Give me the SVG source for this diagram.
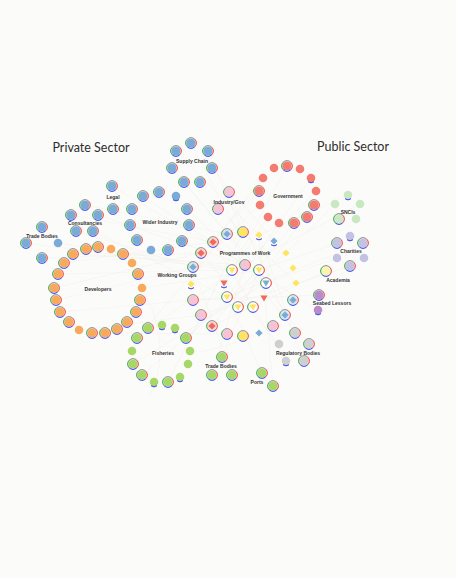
<svg xmlns="http://www.w3.org/2000/svg" xmlns:xlink="http://www.w3.org/1999/xlink" width="456" height="578" viewBox="0 0 456 578">
<style>
.b{fill:#7aabd6}.o{fill:#f8a95c}.r{fill:#f47b6f}.g{fill:#a7d867}.p{fill:#f7c2d6}.y{fill:#ffe462}.sn{fill:#c8e8c2}.ch{fill:#c4c2e2}.ac{fill:#f8f6ae}.sb{fill:#b98bca}.gr{fill:#cfcfcf}.lb{fill:#d6e5f1}.lr{fill:#fbd3ce}.wt{fill:#fdfdfb}.dr{fill:#ef6a5d}
.l{font-family:"Liberation Sans",Arial,sans-serif;font-size:5px;font-weight:bold;fill:#333;text-anchor:middle}
.t{font-family:Lato,"Liberation Sans",sans-serif;font-size:12.5px;fill:#2d2d2d;text-anchor:middle}
.e{stroke:#ebe6dc;stroke-width:.4;fill:none;opacity:.6}
</style>
<defs>
<g id="R" fill="none" stroke-width="1">
<path d="M-3.8,-3.8A5.4,5.4 0 0 1 3.8,-3.8" stroke="#8a8a8a"/>
<path d="M3.8,-3.8A5.4,5.4 0 0 1 3.8,3.8" stroke="#e8433a"/>
<path d="M3.8,3.8A5.4,5.4 0 0 1 -3.8,3.8" stroke="#2b3cf0"/>
<path d="M-3.8,3.8A5.4,5.4 0 0 1 -3.8,-3.8" stroke="#3aa04a"/>
</g>
<path id="U" d="M3,3.7A4.8,4.8 0 0 1 -3,3.7" fill="none" stroke="#2b3cf0" stroke-width="1"/>
<path id="D" d="M0,-3.6L3.6,0L0,3.6L-3.6,0Z"/>
<path id="T" d="M-3.6,-2.4H3.6L0,3.4Z"/>
</defs>
<rect width="456" height="578" fill="#fbfbf9"/>
<g id="connectors">
<path class="e" d="M120,255C160,300 170,360 150,395" stroke="#f6dcbc"/>
<path class="e" d="M191,143L240,237"/>
<path class="e" d="M200,352Q235,345 257,333" stroke="#cfdced"/>
<path class="e" d="M58,243L245,270M26,243L230,270M42,258L200,253M112,186L245,265M85,205L227,234M71,215L213,242M98,215L245,265M76,231L193,267M93,231L227,297"/>
<path class="e" d="M54,288L200,253M58,274L232,270M56,300L193,267M60,312L227,297M79,330L201,315M92,333L227,334M64,263L212,242M73,254L245,265M142,288L259,270"/>
<path class="e" d="M176,151L259,235M208,151L243,232M172,168L227,234M212,168L274,241M184,182L259,270M143,196L245,265M187,209L266,283"/>
<path class="e" d="M287,166L232,270M263,178L213,242M311,178L227,297M259,191L201,253M316,191L245,265M260,205L193,267M314,205L238,307M268,217L224,283M294,223L212,326"/>
<path class="e" d="M348,195L259,235M335,204L286,253M360,204L245,265M337,243L259,270M363,243L227,297M337,258L266,283M350,266L201,315M326,271L212,326M319,295L193,300M318,310L245,265"/>
<path class="e" d="M295,333L245,265M279,344L201,253M309,344L227,234M286,361L213,242M304,361L259,235M222,357L259,270M212,375L245,265M232,375L193,267M262,373L227,297M273,386L259,235"/>
<path class="e" d="M148,328L245,265M186,338L259,270M137,338L227,234M133,364L266,283M168,382L243,232M142,375L286,253M229,192L285,315M218,209L296,283"/>
</g>
<text class="t" x="91" y="152">Private Sector</text>
<text class="t" x="353" y="151">Public Sector</text>
<g id="supply-chain">
<g id="sc1" transform="translate(191 143)"><circle class="b" r="4.6"/><use href="#R"/></g>
<g id="sc2" transform="translate(176 151)"><circle class="b" r="4.6"/><use href="#R"/></g>
<g id="sc3" transform="translate(208 151)"><circle class="b" r="4.6"/><use href="#R"/></g>
<g id="sc4" transform="translate(172 168)"><circle class="b" r="4.6"/><use href="#R"/></g>
<g id="sc5" transform="translate(212 168)"><circle class="b" r="4.6"/><use href="#R"/></g>
<g id="sc6" transform="translate(184 182)"><circle class="b" r="4.6"/><use href="#R"/></g>
<g id="sc7" transform="translate(200 182)"><circle class="b" r="4.6"/><use href="#R"/></g>
<text class="l" x="192" y="163">Supply Chain</text>
</g>
<g id="legal">
<g id="lg1" transform="translate(112 186)"><circle class="b" r="4.6"/><use href="#R"/></g>
<g id="lg2" transform="translate(85 205)"><circle class="b" r="4.6"/><use href="#R"/></g>
<g id="lg3" transform="translate(113 209)"><circle class="b" r="4.6"/><use href="#R"/></g>
<g id="lg4" transform="translate(71 215)"><circle class="b" r="4.6"/><use href="#R"/></g>
<g id="lg5" transform="translate(98 215)"><circle class="b" r="4.6"/><use href="#R"/></g>
<text class="l" x="113" y="199">Legal</text>
</g>
<g id="consultancies">
<g id="co1" transform="translate(76 231)"><circle class="b" r="4.6"/><use href="#R"/></g>
<g id="co2" transform="translate(93 231)"><circle class="b" r="4.6"/><use href="#R"/></g>
<text class="l" x="85" y="225">Consultancies</text>
</g>
<g id="wider-industry">
<g id="wi1" transform="translate(143 196)"><circle class="b" r="4.6"/><use href="#R"/></g>
<g id="wi2" transform="translate(159 192)"><circle class="b" r="4.6"/><use href="#R"/></g>
<g id="wi3" transform="translate(176 196)"><circle class="b" r="4.3"/><use href="#U"/></g>
<g id="wi4" transform="translate(187 209)"><circle class="b" r="4.6"/><use href="#R"/></g>
<g id="wi5" transform="translate(189 225)"><circle class="b" r="4.6"/><use href="#R"/></g>
<g id="wi6" transform="translate(182 241)"><circle class="b" r="4.6"/><use href="#R"/></g>
<g id="wi7" transform="translate(168 250)"><circle class="b" r="4.6"/><use href="#R"/></g>
<g id="wi8" transform="translate(151 250)"><circle class="b" r="4.3"/></g>
<g id="wi9" transform="translate(137 240)"><circle class="b" r="4.6"/><use href="#R"/></g>
<g id="wi10" transform="translate(130 225)"><circle class="b" r="4.6"/><use href="#R"/></g>
<g id="wi11" transform="translate(132 209)"><circle class="b" r="4.6"/><use href="#R"/></g>
<text class="l" x="160" y="224">Wider Industry</text>
</g>
<g id="trade-bodies-private">
<g id="tb1" transform="translate(42 227)"><circle class="b" r="4.6"/><use href="#R"/></g>
<g id="tb2" transform="translate(26 243)"><circle class="b" r="4.6"/><use href="#R"/></g>
<g id="tb3" transform="translate(58 243)"><circle class="b" r="4.3"/></g>
<g id="tb4" transform="translate(42 258)"><circle class="b" r="4.6"/><use href="#R"/></g>
<text class="l" x="42" y="238">Trade Bodies</text>
</g>
<g id="developers">
<g id="dv1" transform="translate(86 249)"><circle class="o" r="4.6"/><use href="#R"/></g>
<g id="dv2" transform="translate(98 247)"><circle class="o" r="4.6"/><use href="#R"/></g>
<g id="dv3" transform="translate(111 249)"><circle class="o" r="4.3"/></g>
<g id="dv4" transform="translate(73 254)"><circle class="o" r="4.6"/><use href="#R"/></g>
<g id="dv5" transform="translate(123 254)"><circle class="o" r="4.6"/><use href="#R"/></g>
<g id="dv6" transform="translate(64 263)"><circle class="o" r="4.6"/><use href="#R"/></g>
<g id="dv7" transform="translate(132 263)"><circle class="o" r="4.3"/></g>
<g id="dv8" transform="translate(58 274)"><circle class="o" r="4.6"/><use href="#R"/></g>
<g id="dv9" transform="translate(138 274)"><circle class="o" r="4.6"/><use href="#R"/></g>
<g id="dv10" transform="translate(54 288)"><circle class="o" r="4.6"/><use href="#R"/></g>
<g id="dv11" transform="translate(142 288)"><circle class="o" r="4.3"/></g>
<g id="dv12" transform="translate(56 300)"><circle class="o" r="4.6"/><use href="#R"/></g>
<g id="dv13" transform="translate(140 300)"><circle class="o" r="4.6"/><use href="#R"/></g>
<g id="dv14" transform="translate(60 312)"><circle class="o" r="4.6"/><use href="#R"/></g>
<g id="dv15" transform="translate(136 312)"><circle class="o" r="4.6"/><use href="#R"/></g>
<g id="dv16" transform="translate(69 322)"><circle class="o" r="4.6"/><use href="#R"/></g>
<g id="dv17" transform="translate(127 322)"><circle class="o" r="4.6"/><use href="#R"/></g>
<g id="dv18" transform="translate(79 330)"><circle class="o" r="4.3"/></g>
<g id="dv19" transform="translate(92 333)"><circle class="o" r="4.6"/><use href="#R"/></g>
<g id="dv20" transform="translate(105 333)"><circle class="o" r="4.6"/><use href="#R"/></g>
<g id="dv21" transform="translate(117 329)"><circle class="o" r="4.6"/><use href="#R"/></g>
<text class="l" x="98" y="291">Developers</text>
</g>
<g id="fisheries">
<g id="fi1" transform="translate(148 328)"><circle class="g" r="4.6"/><use href="#R"/></g>
<g id="fi2" transform="translate(162 325)"><circle class="g" r="4.3"/><use href="#U"/></g>
<g id="fi3" transform="translate(175 328)"><circle class="g" r="4.3"/><use href="#U"/></g>
<g id="fi4" transform="translate(186 338)"><circle class="g" r="4.6"/><use href="#R"/></g>
<g id="fi5" transform="translate(137 338)"><circle class="g" r="4.6"/><use href="#R"/></g>
<g id="fi6" transform="translate(132 351)"><circle class="g" r="4.3"/></g>
<g id="fi7" transform="translate(190 351)"><circle class="g" r="4.3"/></g>
<g id="fi8" transform="translate(133 364)"><circle class="g" r="4.6"/><use href="#R"/></g>
<g id="fi9" transform="translate(188 364)"><circle class="g" r="4.3"/></g>
<g id="fi10" transform="translate(142 375)"><circle class="g" r="4.6"/><use href="#R"/></g>
<g id="fi11" transform="translate(154 382)"><circle class="g" r="4.3"/><use href="#U"/></g>
<g id="fi12" transform="translate(168 382)"><circle class="g" r="4.6"/><use href="#R"/></g>
<g id="fi13" transform="translate(180 377)"><circle class="g" r="4.3"/><use href="#U"/></g>
<text class="l" x="163" y="355">Fisheries</text>
</g>
<g id="trade-bodies-public">
<g id="tp1" transform="translate(222 357)"><circle class="g" r="4.6"/><use href="#R"/></g>
<g id="tp2" transform="translate(212 375)"><circle class="g" r="4.6"/><use href="#R"/></g>
<g id="tp3" transform="translate(232 375)"><circle class="g" r="4.6"/><use href="#R"/></g>
<text class="l" x="221" y="368">Trade Bodies</text>
</g>
<g id="ports">
<g id="po1" transform="translate(262 373)"><circle class="g" r="4.6"/><use href="#R"/></g>
<g id="po2" transform="translate(273 386)"><circle class="g" r="4.6"/><use href="#R"/></g>
<text class="l" x="257" y="384">Ports</text>
</g>
<g id="regulatory-bodies">
<g id="rb1" transform="translate(295 333)"><circle class="gr" r="4.6"/><use href="#R"/></g>
<g id="rb2" transform="translate(279 344)"><circle class="gr" r="4.3"/></g>
<g id="rb3" transform="translate(309 344)"><circle class="gr" r="4.6"/><use href="#R"/></g>
<g id="rb4" transform="translate(286 361)"><circle class="gr" r="4.3"/><use href="#U"/></g>
<g id="rb5" transform="translate(304 361)"><circle class="gr" r="4.6"/><use href="#R"/></g>
<text class="l" x="298" y="355">Regulatory Bodies</text>
</g>
<g id="government">
<g id="gv1" transform="translate(287 166)"><circle class="r" r="4.6"/><use href="#R"/></g>
<g id="gv2" transform="translate(274 168)"><circle class="r" r="4.3"/></g>
<g id="gv3" transform="translate(300 169)"><circle class="r" r="4.3"/></g>
<g id="gv4" transform="translate(263 178)"><circle class="r" r="4.3"/></g>
<g id="gv5" transform="translate(311 178)"><circle class="r" r="4.3"/><use href="#U"/></g>
<g id="gv6" transform="translate(259 191)"><circle class="r" r="4.6"/><use href="#R"/></g>
<g id="gv7" transform="translate(316 191)"><circle class="r" r="4.3"/></g>
<g id="gv8" transform="translate(260 205)"><circle class="r" r="4.3"/></g>
<g id="gv9" transform="translate(314 205)"><circle class="r" r="4.6"/><use href="#R"/></g>
<g id="gv10" transform="translate(268 217)"><circle class="r" r="4.3"/></g>
<g id="gv11" transform="translate(307 217)"><circle class="r" r="4.6"/><use href="#R"/></g>
<g id="gv12" transform="translate(279 223)"><circle class="r" r="4.3"/></g>
<g id="gv13" transform="translate(294 223)"><circle class="r" r="4.6"/><use href="#R"/></g>
<text class="l" x="288" y="198">Government</text>
</g>
<g id="sncis">
<g id="sn1" transform="translate(348 195)"><circle class="sn" r="4.3"/><use href="#U"/></g>
<g id="sn2" transform="translate(335 204)"><circle class="sn" r="4.3"/></g>
<g id="sn3" transform="translate(360 204)"><circle class="sn" r="4.3"/></g>
<g id="sn4" transform="translate(339 219)"><circle class="sn" r="4.6"/><use href="#R"/></g>
<g id="sn5" transform="translate(356 219)"><circle class="sn" r="4.3"/></g>
<text class="l" x="348" y="214">SNCIs</text>
</g>
<g id="charities">
<g id="ch1" transform="translate(350 236)"><circle class="ch" r="4.3"/><use href="#U"/></g>
<g id="ch2" transform="translate(337 243)"><circle class="ch" r="4.6"/><use href="#R"/></g>
<g id="ch3" transform="translate(363 243)"><circle class="ch" r="4.6"/><use href="#R"/></g>
<g id="ch4" transform="translate(337 258)"><circle class="ch" r="4.3"/></g>
<g id="ch5" transform="translate(364 258)"><circle class="ch" r="4.3"/></g>
<g id="ch6" transform="translate(350 266)"><circle class="ch" r="4.6"/><use href="#R"/></g>
<text class="l" x="351" y="253">Charities</text>
</g>
<g id="academia">
<g id="ac1" transform="translate(326 271)"><circle class="ac" r="4.6"/><use href="#R"/></g>
<text class="l" x="338" y="282">Academia</text>
</g>
<g id="seabed-lessors">
<g id="sb1" transform="translate(319 295)"><circle class="sb" r="4.6"/><use href="#R"/></g>
<g id="sb2" transform="translate(318 310)"><circle class="sb" r="4.3"/><use href="#U"/></g>
<text class="l" x="332" y="305">Seabed Lessors</text>
</g>
<g id="industry-gov">
<g id="ig1" transform="translate(229 192)"><circle class="p" r="4.6"/><use href="#R"/></g>
<g id="ig2" transform="translate(218 209)"><circle class="p" r="4.6"/><use href="#R"/></g>
<text class="l" x="229" y="204">Industry/Gov</text>
</g>
<g id="programmes-of-work">
<g id="pw1" transform="translate(227 234)"><circle class="lb" r="4.6"/><use class="b" href="#D"/><use href="#R"/></g>
<g id="pw2" transform="translate(243 232)"><circle class="y" r="4.6"/><use href="#R"/></g>
<g id="pw3" transform="translate(259 235)"><use class="y" href="#D"/><use href="#U"/></g>
<g id="pw4" transform="translate(274 241)"><use class="b" href="#D"/><use href="#U"/></g>
<g id="pw5" transform="translate(213 242)"><circle class="lr" r="4.6"/><use class="dr" href="#D"/><use href="#R"/></g>
<g id="pw6" transform="translate(201 253)"><circle class="lr" r="4.6"/><use class="dr" href="#D"/><use href="#R"/></g>
<g id="pw7" transform="translate(286 253)"><use class="y" href="#D"/></g>
<g id="pw8" transform="translate(245 265)"><circle class="p" r="4.6"/><use href="#R"/></g>
<g id="pw9" transform="translate(232 270)"><circle class="wt" r="4.6"/><use class="y" href="#T"/><use href="#R"/></g>
<g id="pw10" transform="translate(259 270)"><circle class="wt" r="4.6"/><use class="y" href="#T"/><use href="#R"/></g>
<g id="pw11" transform="translate(293 268)"><use class="y" href="#D"/></g>
<g id="pw12" transform="translate(224 283)"><use class="dr" href="#T"/><use href="#U"/></g>
<g id="pw13" transform="translate(266 283)"><circle class="wt" r="4.6"/><use class="b" href="#T"/><use href="#R"/></g>
<g id="pw14" transform="translate(296 283)"><use class="y" href="#D"/></g>
<g id="pw15" transform="translate(227 297)"><circle class="wt" r="4.6"/><use class="y" href="#T"/><use href="#R"/></g>
<g id="pw16" transform="translate(264 298)"><use class="dr" href="#T"/></g>
<g id="pw17" transform="translate(293 300)"><circle class="lb" r="4.6"/><use class="b" href="#D"/><use href="#R"/></g>
<g id="pw18" transform="translate(238 307)"><circle class="wt" r="4.6"/><use class="y" href="#T"/><use href="#R"/></g>
<g id="pw19" transform="translate(253 307)"><circle class="wt" r="4.6"/><use class="y" href="#T"/><use href="#R"/></g>
<g id="pw20" transform="translate(285 315)"><circle class="lb" r="4.6"/><use class="b" href="#D"/><use href="#R"/></g>
<g id="pw21" transform="translate(273 326)"><circle class="p" r="4.6"/><use href="#R"/></g>
<g id="pw22" transform="translate(259 333)"><use class="b" href="#D"/></g>
<g id="pw23" transform="translate(243 336)"><circle class="y" r="4.6"/><use href="#R"/></g>
<g id="pw24" transform="translate(227 334)"><circle class="p" r="4.6"/><use href="#R"/></g>
<g id="pw25" transform="translate(212 326)"><circle class="lr" r="4.6"/><use class="dr" href="#D"/><use href="#R"/></g>
<text class="l" x="245" y="255">Programmes of Work</text>
</g>
<g id="working-groups">
<g id="wg1" transform="translate(193 267)"><circle class="lb" r="4.6"/><use class="b" href="#D"/><use href="#R"/></g>
<g id="wg2" transform="translate(191 284)"><use class="y" href="#D"/><use href="#U"/></g>
<g id="wg3" transform="translate(193 300)"><circle class="p" r="4.6"/><use href="#R"/></g>
<g id="wg4" transform="translate(201 315)"><circle class="p" r="4.6"/><use href="#R"/></g>
<text class="l" x="177" y="277">Working Groups</text>
</g>
</svg>
